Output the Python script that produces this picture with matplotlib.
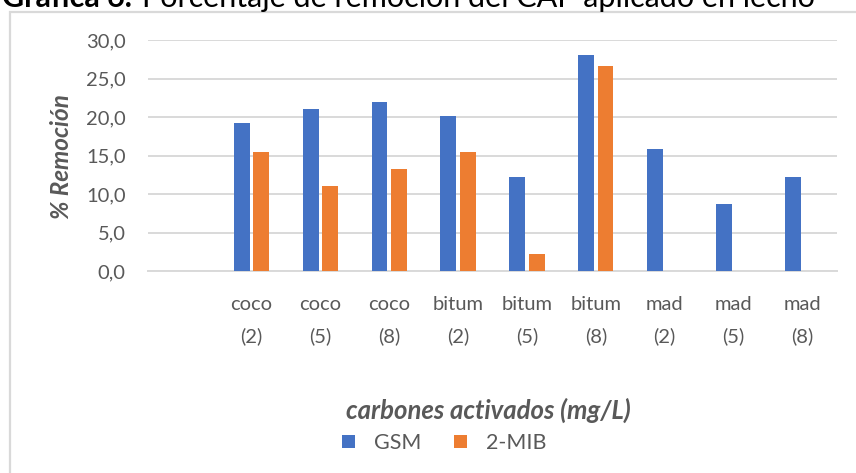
import numpy as np
import matplotlib.pyplot as plt
from matplotlib.patches import Rectangle

# Porcentaje de remoción por tipo de carbón activado y dosis (mg/L)
categorias = ["", "coco\n(2)", "coco\n(5)", "coco\n(8)", "bitum\n(2)", "bitum\n(5)",
              "bitum\n(8)", "mad\n(2)", "mad\n(5)", "mad\n(8)"]
gsm = [np.nan, 19.2, 21.0, 21.9, 20.1, 12.2, 28.1, 15.8, 8.7, 12.2]
mib = [np.nan, 15.5, 11.1, 13.3, 15.5, 2.2, 26.6, np.nan, np.nan, np.nan]
y_ticks = [0, 5, 10, 15, 20, 25, 30]

AZUL = "#4472C4"
NARANJA = "#ED7D31"
GRIS_TXT = "#595959"
GRIS_LINEA = "#D9D9D9"

plt.rcParams["font.family"] = ["Lato", "DejaVu Sans"]

W, H = 856, 473
fig = plt.figure(figsize=(W / 100, H / 100), dpi=100)

# marco del gráfico
fig.patches.append(Rectangle((10 / W, -0.05), 1.0, 1 - 12 / H + 0.05,
                             transform=fig.transFigure, fill=False,
                             edgecolor=GRIS_LINEA, linewidth=1.6))

# título (queda recortado por el borde superior)
t1 = fig.text(2 / W, 1 - 7 / H, "Gráfica 6.", fontsize=22, fontweight="bold",
              color="black", va="baseline", ha="left")
fig.canvas.draw()
bb = t1.get_window_extent(fig.canvas.get_renderer())
fig.text((bb.x1 + 10) / W, 1 - 7 / H,
         "Porcentaje de remoción del CAP aplicado en lecho",
         fontsize=22, color="black", va="baseline", ha="left")

ax = fig.add_axes([148 / W, 1 - 271 / H, (837 - 148) / W, (271 - 40) / H])

x = np.arange(len(categorias))
ancho = 0.23
desp = 0.14
ax.bar(x - desp, gsm, width=ancho, color=AZUL, label="GSM", zorder=3)
ax.bar(x + desp, mib, width=ancho, color=NARANJA, label="2-MIB", zorder=3)

ax.set_xlim(-0.5, len(categorias) - 0.5)
ax.set_ylim(0, 30)
ax.set_yticks(y_ticks)
ax.set_yticklabels([f"{v:.1f}".replace(".", ",") for v in y_ticks])
ax.set_xticks(x)
ax.set_xticklabels(categorias, linespacing=1.95)

ax.grid(axis="y", color=GRIS_LINEA, linewidth=1.4, zorder=0)
for s in ["top", "right", "left"]:
    ax.spines[s].set_visible(False)
ax.spines["bottom"].set_color(GRIS_LINEA)
ax.spines["bottom"].set_linewidth(1.4)
ax.tick_params(axis="both", length=0, labelsize=14.5, labelcolor=GRIS_TXT)
ax.tick_params(axis="y", pad=16)
ax.tick_params(axis="x", pad=18)

fig.text(62 / W, 1 - 157 / H, "% Remoción", fontsize=17.5, fontweight="bold",
         style="italic", color=GRIS_TXT, rotation=90, ha="center", va="center")

fig.text(488 / W, 1 - 410 / H, "carbones activados (mg/L)", fontsize=18.5,
         fontweight="bold", style="italic", color=GRIS_TXT, ha="center", va="center")

fig.legend(loc="center", bbox_to_anchor=(444 / W, 1 - 443 / H), ncol=2,
           frameon=False, fontsize=15.5, labelcolor=GRIS_TXT, handlelength=0.6,
           handleheight=0.6, handletextpad=0.9, columnspacing=1.5)

fig.savefig("out.png", dpi=100)
